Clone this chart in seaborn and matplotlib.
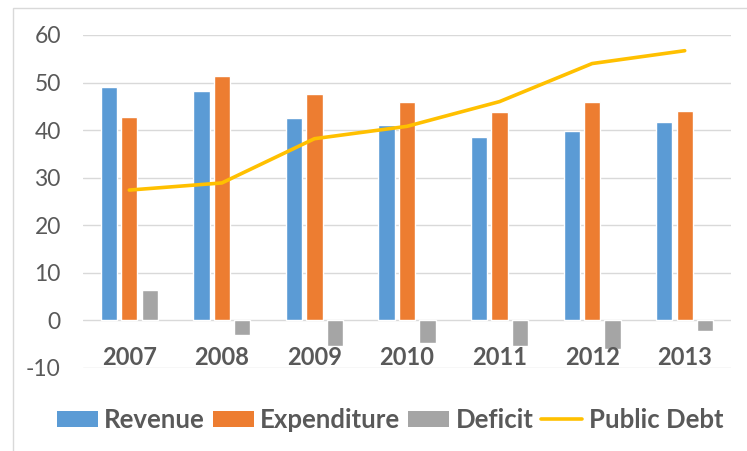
import numpy as np
import pandas as pd
import matplotlib
matplotlib.use("Agg")
import matplotlib.pyplot as plt
import seaborn as sns
from matplotlib.patches import Patch, Rectangle
from matplotlib.lines import Line2D

# ── data ────────────────────────────────────────────────────────────────────
years = ["2007", "2008", "2009", "2010", "2011", "2012", "2013"]
revenue = [49.0, 48.3, 42.5, 41.1, 38.6, 39.8, 41.7]
expenditure = [42.8, 51.3, 47.7, 45.9, 43.8, 45.9, 44.0]
deficit = [6.3, -3.1, -5.4, -4.7, -5.3, -6.0, -2.2]
public_debt = [27.4, 28.9, 38.2, 40.8, 46.0, 54.0, 56.7]
y_ticks = [-10, 0, 10, 20, 30, 40, 50, 60]

series = ["Revenue", "Expenditure", "Deficit"]
colors = {"Revenue": "#5B9BD5", "Expenditure": "#ED7D31", "Deficit": "#A5A5A5"}
debt_color = "#FFC000"
text_color = "#595959"

df = pd.DataFrame({
    "year": years * 3,
    "series": [s for s in series for _ in years],
    "value": revenue + expenditure + deficit,
})

sns.set_theme(style="white")
plt.rcParams["font.family"] = ["Lato", "DejaVu Sans"]
plt.rcParams["axes.unicode_minus"] = False

fig = plt.figure(figsize=(7.47, 4.51), dpi=100)
ax = fig.add_axes([83 / 747, 1 - 368 / 451, (731 - 83) / 747, (368 - 35) / 451])

# chart border (Excel chart area)
fig.patches.append(Rectangle((13 / 747, -0.01), 1.0, 1 - 8 / 451 + 0.01,
                             transform=fig.transFigure, fill=False,
                             edgecolor="#D9D9D9", linewidth=1.0))

sns.barplot(data=df, x="year", y="value", hue="series", order=years,
            hue_order=series, palette=colors, width=0.66, gap=0.2,
            saturation=1, errorbar=None, legend=False, ax=ax, zorder=3)
sns.lineplot(x=np.arange(len(years)), y=public_debt, color=debt_color,
             linewidth=2.6, ax=ax, zorder=4)

ax.set_ylim(-10, 60)
ax.set_xlim(-0.5, len(years) - 0.5)
ax.set_yticks(y_ticks)
ax.set_yticklabels([str(t) for t in y_ticks])
ax.yaxis.grid(True, color="#D9D9D9", linewidth=1.0, zorder=0)
ax.set_axisbelow(True)
for sp in ax.spines.values():
    sp.set_visible(False)
ax.set_xlabel("")
ax.set_ylabel("")
ax.tick_params(axis="y", length=0, pad=16, labelsize=16.5, labelcolor=text_color)
ax.set_xticks([])

# category labels sit next to the zero line, as Excel does
for i, y in enumerate(years):
    ax.text(i, -7.8, y, ha="center", va="center", fontsize=17,
            fontweight="bold", color=text_color)

handles = [Patch(facecolor=colors[s], edgecolor="none") for s in series]
handles.append(Line2D([0], [0], color=debt_color, linewidth=2.6))
fig.legend(handles, series + ["Public Debt"], loc="center",
           bbox_to_anchor=(390 / 747, 1 - 420 / 451), ncol=4, frameon=False,
           handlelength=1.6, handleheight=0.6, handletextpad=0.25,
           columnspacing=0.3, prop={"size": 18.5, "weight": "bold"},
           labelcolor=text_color)

fig.savefig("out.png", dpi=100, facecolor="white")
